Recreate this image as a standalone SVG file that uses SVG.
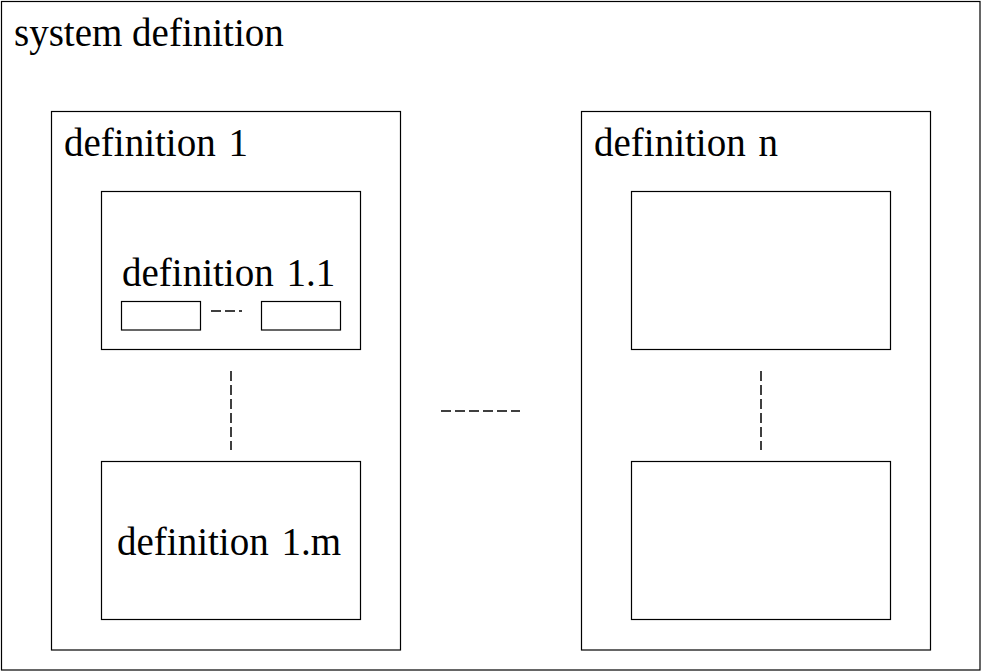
<svg xmlns="http://www.w3.org/2000/svg" width="982" height="672" viewBox="0 0 982 672">
<style>
.box{fill:#fff;stroke:#000;stroke-width:1.2}
.t{font-family:"Liberation Serif","Times New Roman",serif;font-size:39px;fill:#000}
.d{stroke:#000;stroke-width:1.5;fill:none;stroke-dasharray:10 4}
</style>
<rect width="982" height="672" fill="#fff"/>
<g id="system">
<rect class="box" x="1.5" y="1.5" width="978.5" height="668.5"/>
<text class="t" x="14" y="46">system definition</text>
</g>
<g id="def1">
<rect class="box" x="51.5" y="111.5" width="349" height="538.5"/>
<text class="t" x="64" y="156" word-spacing="3">definition 1</text>
</g>
<g id="def1_1">
<rect class="box" x="101.5" y="191.5" width="259" height="158"/>
<text class="t" x="122" y="286" word-spacing="3">definition 1.1</text>
<rect class="box" x="121.5" y="301.5" width="79" height="28.5"/>
<rect class="box" x="261.5" y="301.5" width="79" height="28.5"/>
</g>
<g id="def1_m">
<rect class="box" x="101.5" y="461.5" width="259" height="158"/>
<text class="t" x="117" y="555" word-spacing="3">definition 1.m</text>
</g>
<g id="defn">
<rect class="box" x="581.5" y="111.5" width="349" height="538.5"/>
<text class="t" x="594" y="156" word-spacing="3">definition n</text>
</g>
<g id="defn_1">
<rect class="box" x="631.5" y="191.5" width="259" height="158"/>
</g>
<g id="defn_m">
<rect class="box" x="631.5" y="461.5" width="259" height="158"/>
</g>
<g id="connectors">
<line class="d" x1="211" y1="311" x2="242" y2="311" stroke-dasharray="10 4 2 4"/>
<line class="d" x1="231" y1="371" x2="231" y2="450"/>
<line class="d" x1="761" y1="371" x2="761" y2="450"/>
<line class="d" x1="441" y1="411" x2="520" y2="411"/>
</g>
</svg>
